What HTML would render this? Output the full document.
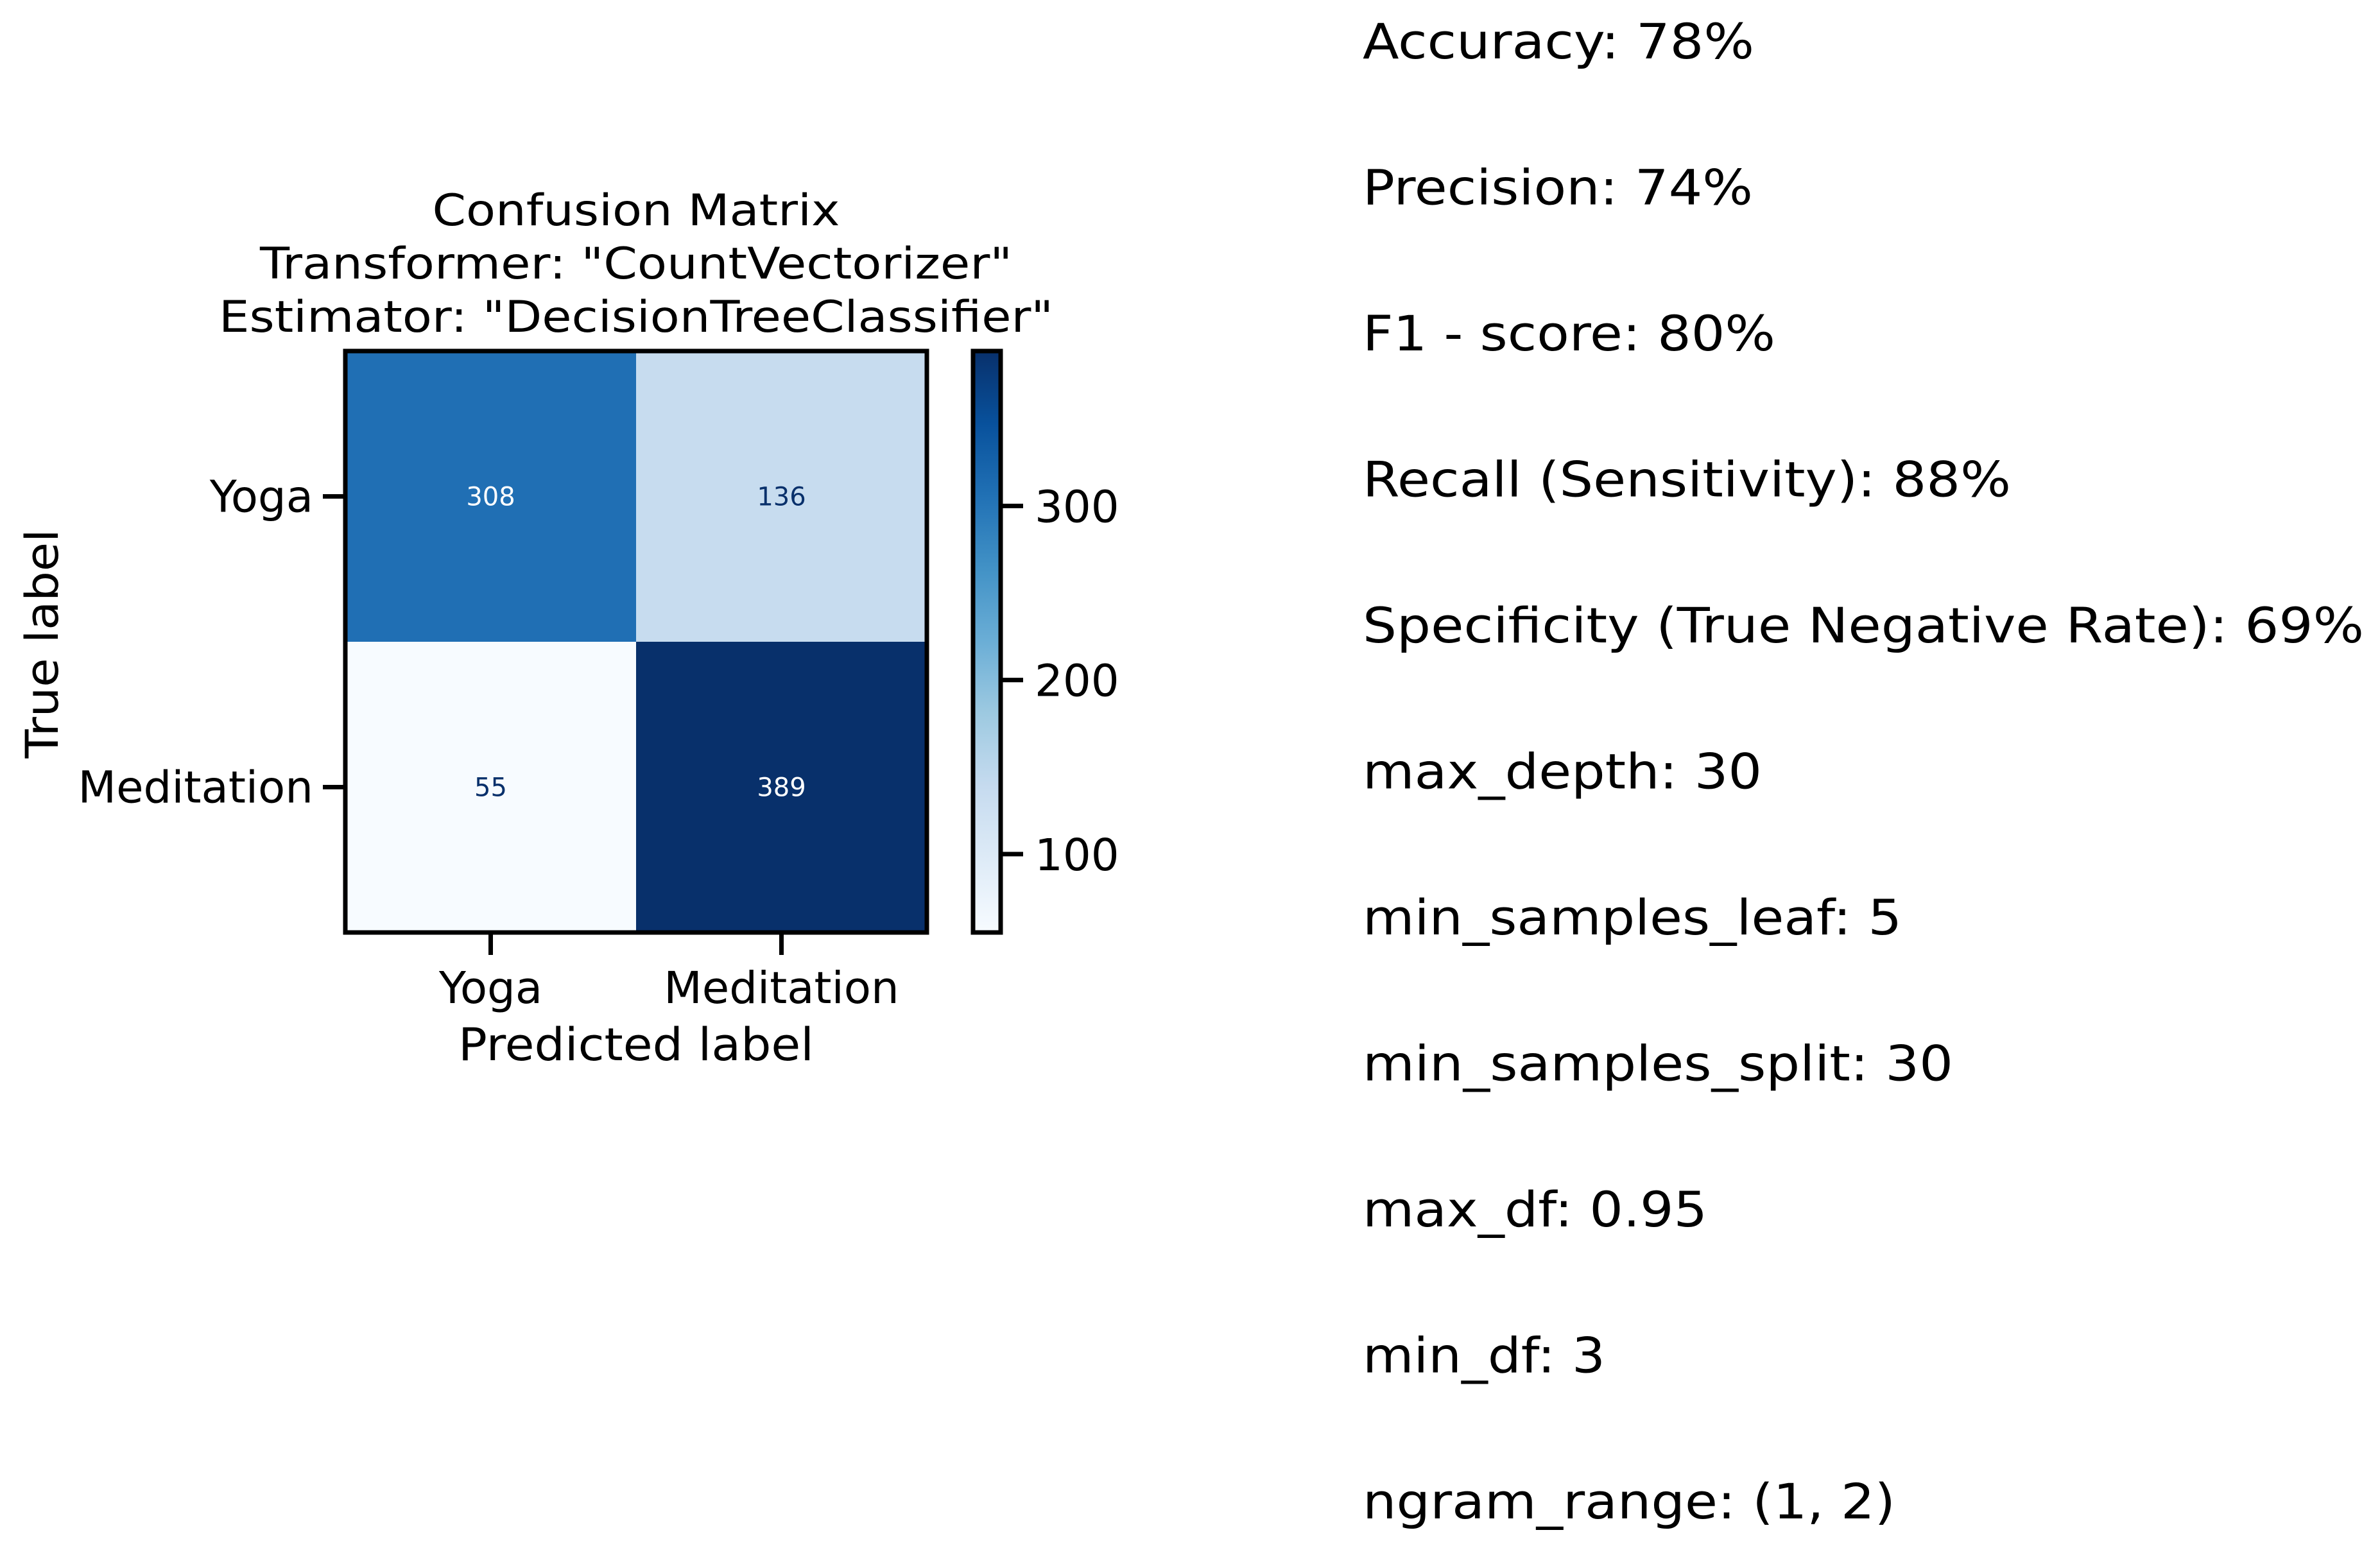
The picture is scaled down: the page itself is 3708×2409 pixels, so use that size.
<!DOCTYPE html>
<html><head><meta charset="utf-8"><style>
html,body{margin:0;padding:0;background:#fff;}
svg{display:block;}
text{font-family:"DejaVu Sans","Liberation Sans",sans-serif;fill:#000;}
</style></head><body>
<svg id="fig" width="3708" height="2409" viewBox="0 0 3708 2409" xmlns="http://www.w3.org/2000/svg">
<defs>
<linearGradient id="blues" x1="0" y1="1" x2="0" y2="0">
<stop offset="0" stop-color="#f7fbff"/><stop offset="0.125" stop-color="#deebf7"/><stop offset="0.25" stop-color="#c6dbef"/><stop offset="0.375" stop-color="#9ecae1"/><stop offset="0.5" stop-color="#6baed6"/><stop offset="0.625" stop-color="#4292c6"/><stop offset="0.75" stop-color="#2171b5"/><stop offset="0.875" stop-color="#08519c"/><stop offset="1" stop-color="#08306b"/>
</linearGradient>
</defs>
<g font-size="68" text-anchor="middle">
<text x="991" y="351" textLength="635" lengthAdjust="spacingAndGlyphs">Confusion Matrix</text>
<text x="991" y="434" textLength="1172" lengthAdjust="spacingAndGlyphs">Transformer: "CountVectorizer"</text>
<text x="991" y="517" textLength="1300" lengthAdjust="spacingAndGlyphs">Estimator: "DecisionTreeClassifier"</text>
</g>
<g id="cells"></g>
<rect x="538" y="547" width="906" height="906" fill="none" stroke="#000" stroke-width="7"/>
<g id="ticks"></g>
<text x="991" y="1652" font-size="70" text-anchor="middle" textLength="554" lengthAdjust="spacingAndGlyphs">Predicted label</text>
<text x="0" y="0" font-size="70" text-anchor="middle" transform="translate(90,1003) rotate(-90)" textLength="357" lengthAdjust="spacingAndGlyphs">True label</text>
<rect x="1516" y="547" width="43" height="906" fill="url(#blues)" stroke="#000" stroke-width="7"/>
<g id="cbticks"></g>
<g id="metrics" font-size="76"></g>
</svg>
<script>
const categories = ["Yoga", "Meditation"];
const matrixRow0 = [308, 136];
const matrixRow1 = [55, 389];
const cbTicks = [100, 200, 300];
const metricLines = ["Accuracy: 78%","Precision: 74%","F1 - score: 80%","Recall (Sensitivity): 88%","Specificity (True Negative Rate): 69%","max_depth: 30","min_samples_leaf: 5","min_samples_split: 30","max_df: 0.95","min_df: 3","ngram_range: (1, 2)"];
const metricWidths = [610,608,643,1010,1560,622,840,920,537,378,830];

const NS = "http://www.w3.org/2000/svg";
const L = 538, R = 1444, T = 547, B = 1453;
const rows = [matrixRow0, matrixRow1];
const all = rows.flat();
const vmin = Math.min(...all), vmax = Math.max(...all);
const n = categories.length;
const cw = (R - L) / n, ch = (B - T) / n;
const xCenter = j => L + cw * (j + 0.5);
const yCenter = i => T + ch * (i + 0.5);
const cbY = v => B - (v - vmin) / (vmax - vmin) * (B - T);
const stops = ["#f7fbff","#deebf7","#c6dbef","#9ecae1","#6baed6","#4292c6","#2171b5","#08519c","#08306b"];
function hex(c){return [1,3,5].map(i=>parseInt(c.substr(i,2),16));}
function blues(t){
  t = Math.max(0, Math.min(1, t));
  const p = t * (stops.length - 1), k = Math.min(Math.floor(p), stops.length - 2), f = p - k;
  const a = hex(stops[k]), b = hex(stops[k + 1]);
  return "rgb(" + a.map((v, i) => Math.round(v + (b[i] - v) * f)).join(",") + ")";
}
function mk(tag, attrs, parent){const e=document.createElementNS(NS,tag);for(const k in attrs)e.setAttribute(k,attrs[k]);parent.appendChild(e);return e;}
const cells = document.getElementById("cells");
const thr = (vmax + vmin) / 2;
rows.forEach((row, i) => row.forEach((v, j) => {
  const r = mk("rect", {x: L + cw * j, y: T + ch * i, width: cw + 0.5, height: ch + 0.5, fill: blues((v - vmin) / (vmax - vmin))}, cells);
  
  
  const t = mk("text", {x: xCenter(j), y: yCenter(i) + 14, "font-size": 40, "text-anchor": "middle"}, cells);
  
  
  t.style.fill = v > thr ? "#ffffff" : "#08306b";
  t.textContent = v;
}));
const ticks = document.getElementById("ticks");
categories.forEach((c, j) => {
  const l = mk("line", {x1: xCenter(j), x2: xCenter(j), y1: B, y2: B + 35, stroke: "#000", "stroke-width": 7}, ticks);
  
  
  const t = mk("text", {x: xCenter(j), y: 1563, "font-size": 69, "text-anchor": "middle"}, ticks);
  
  
  t.textContent = c;
  const l2 = mk("line", {x1: L - 35, x2: L, y1: yCenter(j), y2: yCenter(j), stroke: "#000", "stroke-width": 7}, ticks);
  
  
  const t2 = mk("text", {x: L - 50, y: yCenter(j) + 24, "font-size": 69, "text-anchor": "end"}, ticks);
  
  
  t2.textContent = c;
});
const cbt = document.getElementById("cbticks");
cbTicks.forEach(v => {
  const y = cbY(v);
  const l = mk("line", {x1: 1559, x2: 1594, y1: y, y2: y, stroke: "#000", "stroke-width": 7}, cbt);
  
  
  const t = mk("text", {x: 1612, y: y + 25, "font-size": 69}, cbt);
  
  
  t.textContent = v;
});
const met = document.getElementById("metrics");
metricLines.forEach((s, i) => {
  const t = mk("text", {x: 2123, y: 91 + i * 227.5, textLength: metricWidths[i], lengthAdjust: "spacingAndGlyphs"}, met);
  
  
  t.textContent = s;
});
</script>
</body></html>
